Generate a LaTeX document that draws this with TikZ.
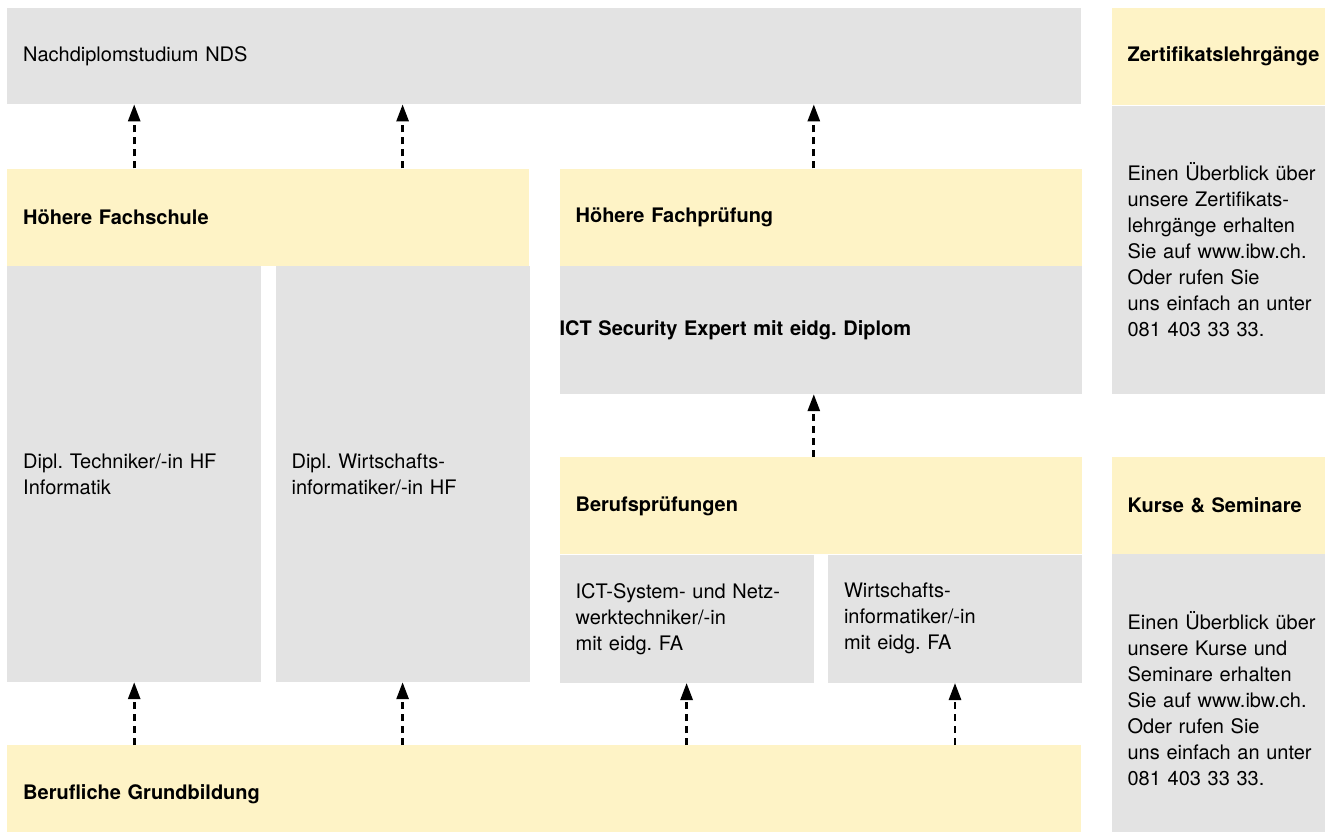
\documentclass[tikz,border=0pt]{standalone}
\usepackage{fontspec}
\setmainfont{TeX Gyre Heros}
\usetikzlibrary{positioning, arrows.meta}
\definecolor{boxgray}{HTML}{E3E3E3}
\definecolor{boxyellow}{HTML}{FEF3C6}
\frenchspacing

\begin{document}
\begin{tikzpicture}[
    x=1pt, y=1pt,
    gbox/.style={rectangle, fill=boxgray, inner ysep=0pt, inner xsep=16pt,
                 align=left, anchor=north west, font=\fontsize{20}{26}\selectfont},
    ybox/.style={gbox, fill=boxyellow, font=\fontsize{20}{26}\selectfont\bfseries},
    arrow/.style={-{Triangle[length=17pt, width=12pt]}, line width=2.8pt,
                  dash pattern=on 7pt off 5pt},
]
\useasboundingbox (0,0) rectangle (1325,-832);

% ── Top: NDS ──
\node[gbox, text width=1042pt, minimum height=96pt] (nds) at (7,-8) {Nachdiplomstudium NDS};

% ── Höhere Fachschule ──
\node[ybox, text width=490pt, minimum height=97pt, below right=64pt and 0pt of nds.south west] (hfs) {Höhere Fachschule};
\node[gbox, text width=222pt, minimum height=416pt, below right=0pt and 0pt of hfs.south west] (tech) {Dipl. Techniker/-in HF\\Informatik};
\node[gbox, text width=222pt, minimum height=416pt, below right=0pt and 14pt of tech.north east] (wirt) {Dipl. Wirtschafts-\\informatiker/-in HF};

% ── Höhere Fachprüfung ──
\node[ybox, text width=490pt, minimum height=97pt, below right=0pt and 30pt of hfs.north east] (hfp) {Höhere Fachprüfung};
\node[gbox, inner xsep=0pt, text width=522pt, minimum height=128pt, below right=0pt and 0pt of hfp.south west] (ict) {\bfseries ICT Security Expert mit eidg. Diplom};

% ── Berufsprüfungen ──
\node[ybox, text width=490pt, minimum height=97pt, below right=63pt and 0pt of ict.south west] (bp) {Berufsprüfungen};
\node[gbox, text width=222pt, minimum height=128pt, below right=0pt and 0pt of bp.south west] (icts) {ICT-System- und Netz-\\werktechniker/-in\\mit eidg. FA};
\node[gbox, text width=222pt, minimum height=128pt, below right=0pt and 14pt of icts.north east] (wfa) {Wirtschafts-\\informatiker/-in\\mit eidg. FA};

% ── Bottom: Grundbildung ──
\node[ybox, text width=1042pt, minimum height=98pt, below right=63pt and 0pt of tech.south west] (grund) {Berufliche Grundbildung};

% ── Side column (runs past the right edge) ──
\node[ybox, text width=198pt, minimum height=97pt, below right=0pt and 30pt of nds.north east] (zert) {Zertifikatslehrgänge};
\node[gbox, text width=198pt, minimum height=288pt, below right=0pt and 0pt of zert.south west] (zinfo) {Einen Überblick über\\unsere Zertifikats-\\lehrgänge erhalten\\Sie auf www.ibw.ch.\\Oder rufen Sie\\uns einfach an unter\\081 403 33 33.};
\node[ybox, text width=198pt, minimum height=97pt, below right=63pt and 0pt of zinfo.south west] (kurse) {Kurse \& Seminare};
\node[gbox, text width=198pt, minimum height=289pt, below right=0pt and 0pt of kurse.south west] (kinfo) {Einen Überblick über\\unsere Kurse und\\Seminare erhalten\\Sie auf www.ibw.ch.\\Oder rufen Sie\\uns einfach an unter\\081 403 33 33.};

% ── Arrows ──
\draw[arrow] (tech.north |- hfs.north) -- (tech.north |- nds.south);
\draw[arrow] (wirt.north |- hfs.north) -- (wirt.north |- nds.south);
\draw[arrow] (icts.east |- hfp.north) -- (icts.east |- nds.south);
\draw[arrow] (icts.east |- bp.north) -- (icts.east |- ict.south);
\draw[arrow] (tech.south |- grund.north) -- (tech.south);
\draw[arrow] (wirt.south |- grund.north) -- (wirt.south);
\draw[arrow] (icts.south |- grund.north) -- (icts.south);
\draw[arrow] (wfa.south |- grund.north) -- (wfa.south);

\end{tikzpicture}
\end{document}
